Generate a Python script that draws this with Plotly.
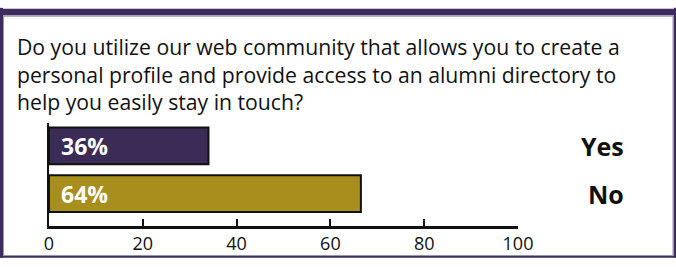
import plotly.graph_objects as go

categories = ["Yes", "No"]
bar_values = [34, 66.5]
bar_labels = ["36%", "64%"]
bar_colors = ["#3b2b57", "#a88e1c"]
tick_vals = [0, 20, 40, 60, 80, 100]
question = ("Do you utilize our web community that allows you to create a<br>"
            "personal profile and provide access to an alumni directory to<br>"
            "help you easily stay in touch?")

W, H = 676, 267
L, R, T, B = 49, 158, 123, 34
PW, PH = W - L - R, H - T - B
FONT = "Open Sans"

def px(x):
    return (x - L) / PW

def py(y):
    return (H - B - y) / PH

fig = go.Figure()
fig.add_trace(go.Bar(
    y=categories, x=bar_values, orientation="h",
    marker=dict(color=bar_colors, line=dict(color="#111111", width=2)),
    width=0.77, hoverinfo="skip",
))

frame = "#3d2d5e"
light = "#9a93b4"

def rect(x0, x1, y0, y1, color):
    return dict(type="rect", xref="paper", yref="paper", x0=px(x0), x1=px(x1),
                y0=py(y0), y1=py(y1), fillcolor=color, line=dict(width=0), layer="above")

shapes = [
    rect(0, 676, 1, 8, frame),
    rect(3, 673, 8, 9.5, light),
    rect(3, 4, 8, 265, light),
    rect(672.5, 674, 8, 265, light),
    rect(3, 674, 264, 265, light),
    rect(0, 3, 0, 267, frame),
    rect(674, 676, 0, 267, frame),
    rect(0, 676, 265, 267, frame),
]

annotations = [
    dict(text=question, xref="paper", yref="paper", x=px(15), y=py(71),
         xanchor="left", yanchor="middle", align="left", showarrow=False,
         font=dict(family=FONT, size=21.2, color="#111111")),
]
for c, lab in zip(categories, bar_labels):
    annotations.append(dict(text="<b>%s</b>" % lab, xref="x", yref="y", x=0, y=c, xshift=10,
                            xanchor="left", yanchor="middle", showarrow=False,
                            font=dict(family=FONT, size=23, color="white")))
    annotations.append(dict(text="<b>%s</b>" % c, xref="paper", yref="y", x=px(626), y=c,
                            xanchor="right", yanchor="middle", showarrow=False,
                            font=dict(family=FONT, size=25, color="#111111")))

fig.update_layout(
    width=W, height=H, autosize=False, margin=dict(l=L, r=R, t=T, b=B),
    paper_bgcolor="white", plot_bgcolor="white",
    showlegend=False, shapes=shapes, annotations=annotations,
    xaxis=dict(range=[0, 100], tickvals=tick_vals, ticks="inside", ticklen=7, tickwidth=2,
               tickcolor="#111111", showline=True, linecolor="#111111", linewidth=2.5,
               showgrid=False, zeroline=False,
               tickfont=dict(family=FONT, size=18, color="#111111")),
    yaxis=dict(categoryorder="array", categoryarray=categories, range=[1.676, -0.48],
               showticklabels=False, ticks="", showline=True, linecolor="#111111",
               linewidth=1.5, showgrid=False, zeroline=False),
)

fig.write_html("out.html",
               config={"displayModeBar": False, "responsive": False},
               post_script="document.body.style.margin='0';document.body.style.overflow='hidden';")
